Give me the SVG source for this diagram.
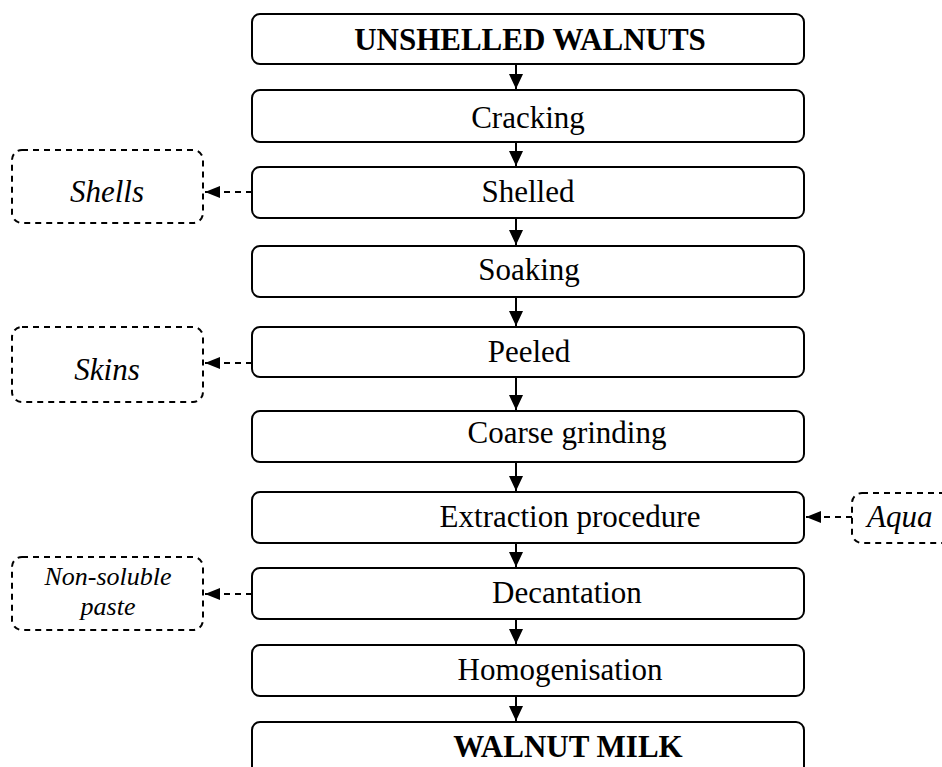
<svg xmlns="http://www.w3.org/2000/svg" width="942" height="767" viewBox="0 0 942 767">
<style>
.box{fill:#fff;stroke:#000;stroke-width:2}
.dbox{fill:#fff;stroke:#000;stroke-width:2;stroke-dasharray:6,5}
.t{font-family:"Liberation Serif","Times New Roman",serif;font-size:31px;fill:#000;text-anchor:middle}
.b{font-weight:bold}
.i{font-style:italic}
.ln{stroke:#000;stroke-width:2;fill:none}
.dl{stroke:#000;stroke-width:2;fill:none;stroke-dasharray:6,5}
</style>
<defs>
<marker id="ah" markerWidth="16" markerHeight="16" refX="15" refY="8" orient="auto" markerUnits="userSpaceOnUse">
<path d="M0,1 L15,8 L0,15 Z" fill="#000"/>
</marker>
<marker id="ad" markerWidth="16" markerHeight="14" refX="15" refY="7" orient="auto" markerUnits="userSpaceOnUse">
<path d="M0,1 L15,7 L0,13 Z" fill="#000"/>
</marker>
</defs>
<g id="connectors">
<line class="ln" x1="516" y1="64" x2="516" y2="89" marker-end="url(#ah)"/>
<line class="ln" x1="516" y1="142" x2="516" y2="166" marker-end="url(#ah)"/>
<line class="ln" x1="516" y1="218" x2="516" y2="245" marker-end="url(#ah)"/>
<line class="ln" x1="516" y1="297" x2="516" y2="326" marker-end="url(#ah)"/>
<line class="ln" x1="516" y1="377" x2="516" y2="410" marker-end="url(#ah)"/>
<line class="ln" x1="516" y1="462" x2="516" y2="491" marker-end="url(#ah)"/>
<line class="ln" x1="516" y1="543" x2="516" y2="567" marker-end="url(#ah)"/>
<line class="ln" x1="516" y1="619" x2="516" y2="644" marker-end="url(#ah)"/>
<line class="ln" x1="516" y1="696" x2="516" y2="721" marker-end="url(#ah)"/>
<line class="dl" x1="252" y1="192" x2="205" y2="192" marker-end="url(#ad)"/>
<line class="dl" x1="252" y1="363" x2="205" y2="363" marker-end="url(#ad)"/>
<line class="dl" x1="252" y1="594" x2="205" y2="594" marker-end="url(#ad)"/>
<line class="dl" x1="852" y1="517" x2="806" y2="517" marker-end="url(#ad)"/>
</g>
<g id="n1"><rect class="box" x="252" y="14" width="552" height="50" rx="8"/><text class="t b" x="530" y="50">UNSHELLED WALNUTS</text></g>
<g id="n2"><rect class="box" x="252" y="90" width="552" height="52" rx="8"/><text class="t" x="528" y="128">Cracking</text></g>
<g id="n3"><rect class="box" x="252" y="167" width="552" height="51" rx="8"/><text class="t" x="528" y="202">Shelled</text></g>
<g id="n4"><rect class="box" x="252" y="246" width="552" height="51" rx="8"/><text class="t" x="529" y="280">Soaking</text></g>
<g id="n5"><rect class="box" x="252" y="327" width="552" height="50" rx="8"/><text class="t" x="529" y="362">Peeled</text></g>
<g id="n6"><rect class="box" x="252" y="411" width="552" height="51" rx="8"/><text class="t" x="567" y="443">Coarse grinding</text></g>
<g id="n7"><rect class="box" x="252" y="492" width="552" height="51" rx="8"/><text class="t" x="570" y="527">Extraction procedure</text></g>
<g id="n8"><rect class="box" x="252" y="568" width="552" height="51" rx="8"/><text class="t" x="567" y="603">Decantation</text></g>
<g id="n9"><rect class="box" x="252" y="645" width="552" height="51" rx="8"/><text class="t" x="560" y="680">Homogenisation</text></g>
<g id="n10"><rect class="box" x="252" y="722" width="552" height="60" rx="8"/><text class="t b" x="568" y="757">WALNUT MILK</text></g>
<g id="shells"><rect class="dbox" x="12" y="150" width="191" height="73" rx="10"/><text class="t i" x="107" y="202">Shells</text></g>
<g id="skins"><rect class="dbox" x="12" y="327" width="191" height="75" rx="10"/><text class="t i" x="107" y="380">Skins</text></g>
<g id="paste"><rect class="dbox" x="12" y="557" width="191" height="73" rx="10"/><text class="t i" x="108" y="585" style="font-size:26px">Non-soluble</text><text class="t i" x="108" y="615" style="font-size:26px">paste</text></g>
<g id="aqua"><rect class="dbox" x="852" y="493" width="120" height="50" rx="10"/><text class="t i" x="867" y="527" style="text-anchor:start">Aqua</text></g>
</svg>
